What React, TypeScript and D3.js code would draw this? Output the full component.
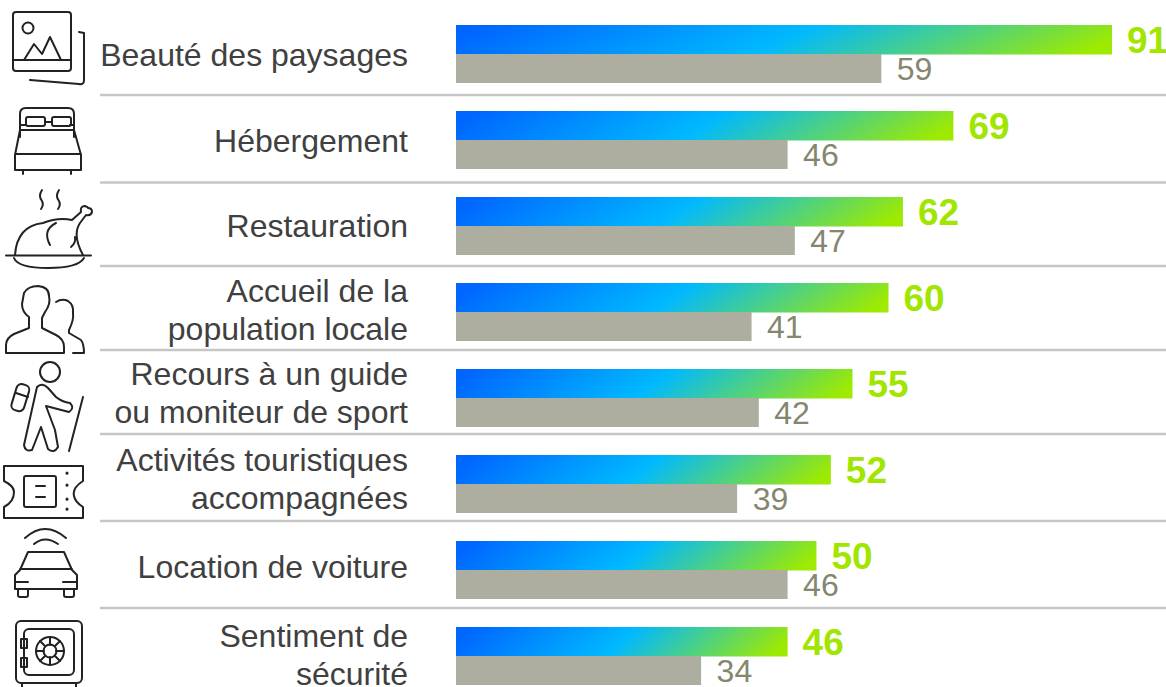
import React from "react";
import * as d3 from "d3";

const categories = [
  ["Beauté des paysages"],
  ["Hébergement"],
  ["Restauration"],
  ["Accueil de la", "population locale"],
  ["Recours à un guide", "ou moniteur de sport"],
  ["Activités touristiques", "accompagnées"],
  ["Location de voiture"],
  ["Sentiment de", "sécurité"],
];
const primaryValues = [91, 69, 62, 60, 55, 52, 50, 46];
const secondaryValues = [59, 46, 47, 41, 42, 39, 46, 34];
const rowTops = [25, 111, 197, 283, 369, 455, 541, 627];
const labelBaselines = [66, 152, 237, 302, 385, 471, 578, 647];
const ruleYs = [95, 182.5, 266, 350, 434, 521, 608];

const FONT = "'Liberation Sans', Arial, sans-serif";
const x = d3.scaleLinear().domain([0, 91]).range([456, 1112]);

const S = { fill: "none", stroke: "#222", strokeWidth: 2, strokeLinejoin: "round" as const, strokeLinecap: "round" as const };

function Icons() {
  return (
    <g {...S}>
      {/* pictures */}
      <rect x={13} y={12} width={58} height={59} rx={3} />
      <path d="M13 60H71M24 60L34 44L42 54L50 37L61 60M79 32L84 33V80Q84 85 79 84L30 80" />
      <circle cx={28} cy={28} r={5.5} />
      {/* bed */}
      <path d="M20 137V114Q20 108 26 108H68Q74 108 74 114V137" />
      <path d="M20 125H26M45 122H52M70 125H74" />
      <rect x={26} y={117} width={19} height={9} rx={2} />
      <rect x={52} y={117} width={19} height={9} rx={2} />
      <path d="M20 130H74L81 155V170H15V155ZM15 154H81M23 170V174M71 170V174" />
      {/* chicken */}
      <path d="M42 190Q38 196 42 201Q44 205 41 209M59 190Q55 196 59 201Q61 205 58 209" />
      <path d="M15 255Q17 226 43 223Q58 217 72 220L81 212Q80 206 85 206Q88 207 88 208Q92 208 92 212Q91 216 86 215L80 223Q72 235 83 255" />
      <path d="M50 245Q42 230 56 223M75 237Q76 243 71 247" />
      <path d="M6 255.5H91M14 258Q18 268 48 268Q78 268 84 258" />
      {/* people */}
      <path d="M6 353V345Q6 338 14 334L29 328V317Q22 312 22 304L24 293Q28 286 38 286Q49 287 49 296Q51 304 45 312L42 318V328L56 335Q64 339 64 347V353Z" />
      <path d="M56 302Q62 298 68 301Q74 305 73 313Q74 320 69 330V333L81 340Q84 344 84 353H73" />
      {/* hiker */}
      <circle cx={50} cy={372} r={10} />
      <path d="M37 387Q42 382 48 388L56 397Q62 402 70 403Q75 408 69 412L46 406L55 430L58 447Q54 454 48 449L41 427L32 450Q25 452 24 445Z" />
      <rect x={14} y={384} width={13} height={27} rx={5} transform="rotate(17 20 397)" />
      <path d="M16 393L28 397M83 397L69 451" />
      {/* ticket */}
      <path d="M4 466H83V481Q72 488 74 496Q75 502 83 507V518H4V507Q14 502 14 492Q14 486 4 481Z" />
      <rect x={24} y={476} width={32} height={31} rx={2} />
      <path d="M36 486H45M36 497H45" />
      <path d="M67 473V473.2M67 485V485.2M67 499V499.2M67 509V509.2" strokeWidth={3} />
      {/* car */}
      <path d="M25 538Q45 520 66 538M34 544Q45 535 58 544" />
      <path d="M28 552H64L72 570L77 575V589H15V575L20 570ZM20 569H72M15 582H28M63 582H77M18 590V595Q18 597 20 597H26Q28 597 28 595V590M64 590V595Q64 597 66 597H72Q74 597 74 595V590" />
      {/* safe */}
      <rect x={16} y={621} width={66} height={62} rx={5} />
      <rect x={24} y={629} width={50} height={46} rx={5} />
      <circle cx={50} cy={651} r={14} />
      <circle cx={50} cy={651} r={6.5} />
      <path d="M50 637V645M50 657V665M36 651H44M56 651H64M40 641L45 646M55 656L60 661M40 661L45 656M55 646L60 641" />
      <rect x={21} y={639} width={6} height={9} />
      <rect x={21} y={658} width={6} height={9} />
      <path d="M22 683V687M76 683V687" />
    </g>
  );
}

export default function App() {
  return (
    <svg
      width={1166}
      height={687}
      style={{ position: "absolute", left: 0, top: 0, background: "#fff" }}
      fontFamily={FONT}
    >
      <defs>
        <linearGradient id="barGrad" x1="0" y1="0.45" x2="1" y2="0.55">
          <stop offset="0" stopColor="#0066ff" />
          <stop offset="0.5" stopColor="#00b9ff" />
          <stop offset="1" stopColor="#9eea00" />
        </linearGradient>
      </defs>
      <Icons />
      {ruleYs.map((y) => (
        <line key={y} x1={100} x2={1166} y1={y} y2={y} stroke="#c6c6c6" strokeWidth={2.6} />
      ))}
      {categories.map((lines, i) => {
        const top = rowTops[i];
        return (
          <g key={i}>
            <rect x={x(0)} y={top} width={x(primaryValues[i]) - x(0)} height={29.5} fill="url(#barGrad)" />
            <rect x={x(0)} y={top + 29} width={x(secondaryValues[i]) - x(0)} height={29} fill="#adaea0" />
            <text x={x(primaryValues[i]) + 15} y={top + 28} fontSize={37} fontWeight={700} fill="#a0e600">
              {primaryValues[i]}
            </text>
            <text x={x(secondaryValues[i]) + 15.5} y={top + 55} fontSize={32} fill="#85866f">
              {secondaryValues[i]}
            </text>
            {lines.map((l, j) => (
              <text
                key={j}
                x={408}
                y={labelBaselines[i] + j * 38}
                textAnchor="end"
                fontSize={32}
                fill="#404040"
              >
                {l}
              </text>
            ))}
          </g>
        );
      })}
    </svg>
  );
}
